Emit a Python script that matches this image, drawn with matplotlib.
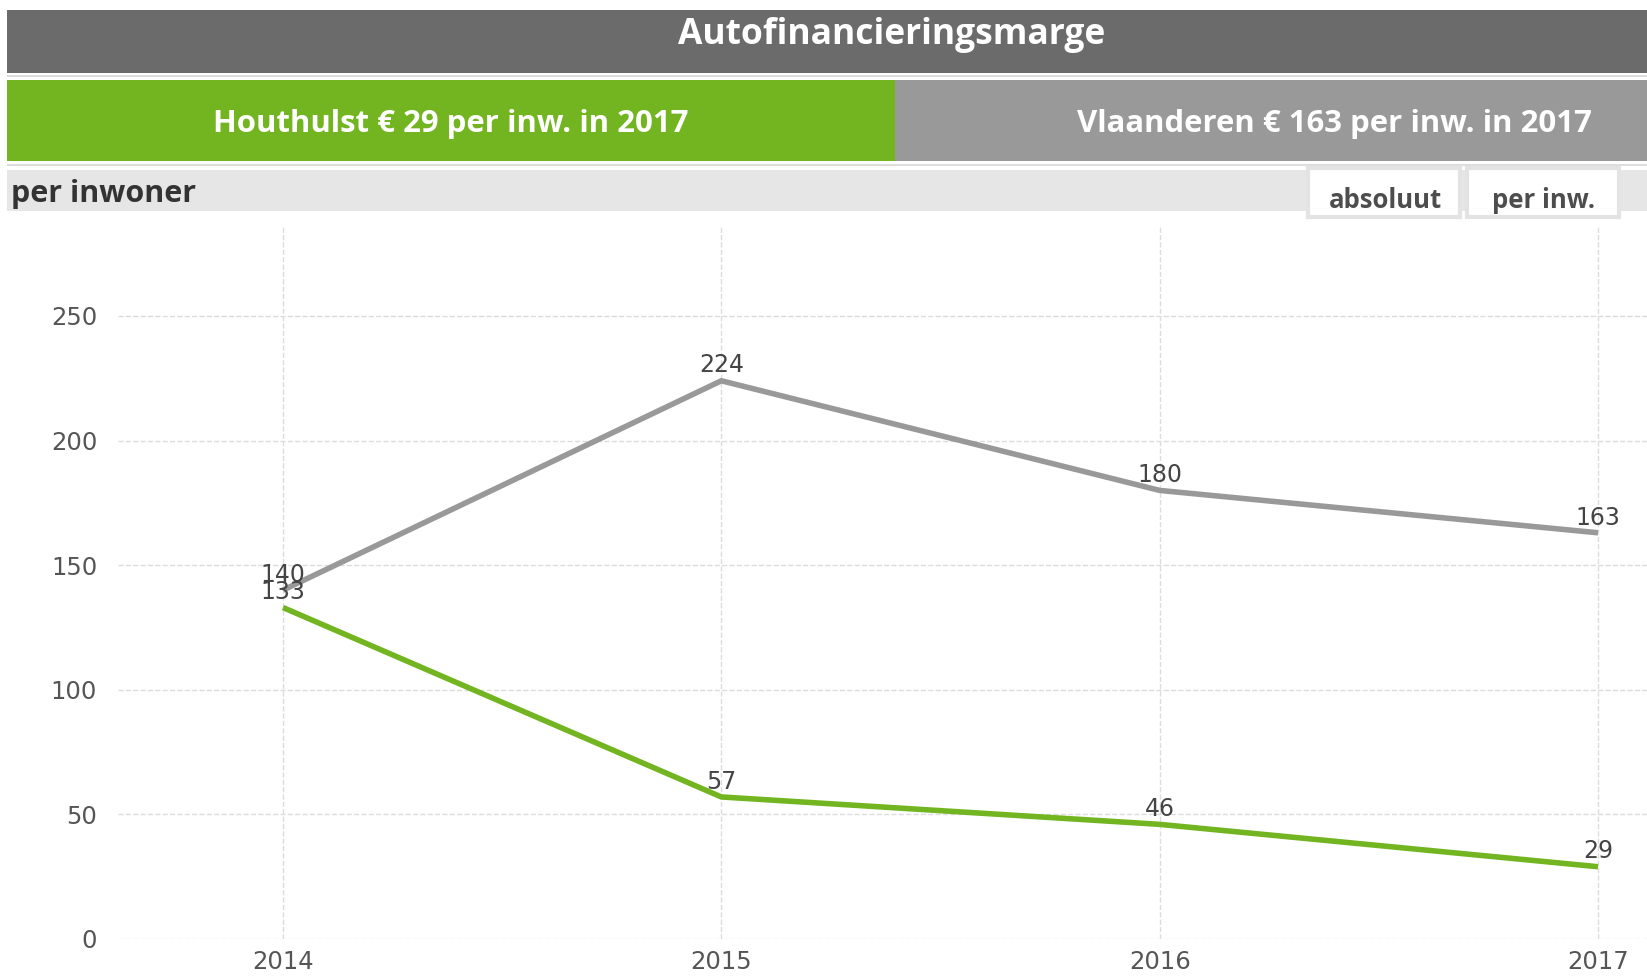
import matplotlib
matplotlib.use('Agg')
import matplotlib.pyplot as plt
from matplotlib.patches import Rectangle

# data
years = [2014, 2015, 2016, 2017]
vlaanderen = [140, 224, 180, 163]
houthulst = [133, 57, 46, 29]
y_ticks = [0, 50, 100, 150, 200, 250]

title = 'Autofinancieringsmarge'
left_banner = 'Houthulst € 29 per inw. in 2017'
right_banner = 'Vlaanderen € 163 per inw. in 2017'
section_label = 'per inwoner'
buttons = ['absoluut', 'per inw.']

GREEN = '#72b521'
GREY = '#999999'
DARK = '#6b6b6b'

W, H = 1647, 976
fig = plt.figure(figsize=(W / 100, H / 100), dpi=100)
fig.patch.set_facecolor('white')

# header drawn in pixel coordinates on a background axes
bg = fig.add_axes([0, 0, 1, 1], zorder=0)
bg.set_xlim(0, W)
bg.set_ylim(H, 0)
bg.axis('off')

bg.add_patch(Rectangle((7, 10), W - 7, 63, facecolor=DARK, edgecolor='none'))
bg.add_patch(Rectangle((7, 75), W - 7, 2, facecolor='#dddddd', edgecolor='none'))
bg.add_patch(Rectangle((7, 80), 888, 81, facecolor=GREEN, edgecolor='none'))
bg.add_patch(Rectangle((895, 80), W - 895, 81, facecolor=GREY, edgecolor='none'))
bg.add_patch(Rectangle((7, 164), W - 7, 2, facecolor='#dddddd', edgecolor='none'))
bg.add_patch(Rectangle((7, 170), W - 7, 41, facecolor='#e6e6e6', edgecolor='none'))

bg.text(892, 35, title, color='white', fontsize=25.5, fontweight='bold',
        family='Open Sans', ha='center', va='center')
bg.text(451, 124, left_banner, color='white', fontsize=22.4, fontweight='bold',
        family='Open Sans', ha='center', va='center')
bg.text(1334, 124, right_banner, color='white', fontsize=22.4, fontweight='bold',
        family='Open Sans', ha='center', va='center')
bg.text(11, 194, section_label, color='#333333', fontsize=22, fontweight='bold',
        family='Open Sans', ha='left', va='center')

for x0, label in zip([1308, 1467], buttons):
    bg.add_patch(Rectangle((x0, 168), 152, 49, facecolor='white',
                           edgecolor='#e3e3e3', linewidth=3))
    bg.text(x0 + 77, 200, label, color='#4d4d4d', fontsize=18.5, fontweight='bold',
            family='Open Sans', ha='center', va='center')

# chart area
ax = fig.add_axes([118 / W, 37 / H, 1 - 118 / W, (939 - 226) / H], zorder=1)
ax.set_facecolor('none')

ax.plot(years, vlaanderen, color=GREY, linewidth=4, solid_capstyle='butt')
ax.plot(years, houthulst, color=GREEN, linewidth=4, solid_capstyle='butt')

for series in [vlaanderen, houthulst]:
    for x, v in zip(years, series):
        ax.annotate(str(v), (x, v), xytext=(0, 11), textcoords='offset points',
                    ha='center', va='center', fontsize=17, color='#444444')

ax.set_xlim(2014 - 0.3765, 2017 + 0.1118)
ax.set_ylim(0, 286.1)
ax.set_xticks(years)
ax.set_yticks(y_ticks)
ax.tick_params(length=0, labelsize=17.5, labelcolor='#555555')
ax.tick_params(axis='y', pad=15)
ax.tick_params(axis='x', pad=8)
ax.grid(True, linestyle='--', color='#dcdcdc', linewidth=1)
for s in ax.spines.values():
    s.set_visible(False)

fig.savefig('out.png', dpi=100)
